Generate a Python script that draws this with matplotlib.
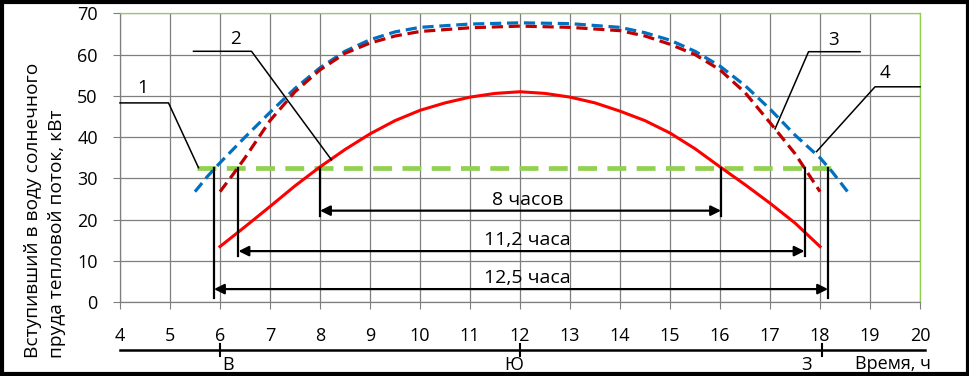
import matplotlib
matplotlib.use("Agg")
import matplotlib.pyplot as plt
from matplotlib.patches import Rectangle

plt.rcParams['font.family'] = ['Open Sans', 'DejaVu Sans']

# red solid curve (absorbed heat flux)
x_red = [6, 6.5, 7, 7.5, 8, 8.5, 9, 9.5, 10, 10.5, 11, 11.5, 12,
         12.5, 13, 13.5, 14, 14.5, 15, 15.5, 16, 16.5, 17, 17.5, 18]
y_red = [13.5, 18.3, 23.2, 28.2, 32.8, 37.0, 40.8, 44.0, 46.5, 48.3, 49.7, 50.6, 51.0,
         50.6, 49.7, 48.3, 46.3, 44.0, 41.0, 37.2, 32.8, 28.5, 24.0, 19.2, 13.5]

# dark red dashed curve
x_dred = [6, 6.25, 6.5, 7, 7.5, 8, 8.5, 9, 9.5, 10, 11, 12, 13, 14,
          14.5, 15, 15.5, 16, 16.5, 17, 17.5, 18]
y_dred = [26.8, 30.8, 35.0, 44.0, 51.0, 56.3, 60.3, 62.8, 64.5, 65.6, 66.5, 66.9, 66.6, 65.8,
          64.5, 62.5, 60.0, 56.3, 50.8, 43.5, 36.0, 26.8]

# blue dashed curve
x_blue = [5.5, 5.75, 6, 6.5, 7, 7.5, 8, 8.5, 9, 9.5, 10, 11, 12, 13, 14,
          14.5, 15, 15.5, 16, 16.5, 17, 17.5, 18, 18.25, 18.55]
y_blue = [26.8, 30.5, 33.8, 40.0, 46.0, 51.8, 56.8, 60.8, 63.6, 65.5, 66.6, 67.4, 67.7, 67.5, 66.6,
          65.3, 63.5, 60.8, 57.2, 52.5, 46.8, 40.5, 35.0, 31.5, 26.8]

# threshold level (green dashed)
level = 32.5
level_x = [5.55, 18.28]

# duration arrows: start, end, height, label
dur_start = [8.0, 6.37, 5.88]
dur_end = [16.02, 17.69, 18.16]
dur_y = [22.2, 12.4, 3.2]
dur_text = ['8 часов', '11,2 часа', '12,5 часа']
drop_bottom = [21.0, 11.2, 1.0]

# numbered leaders: label, label pos, polyline
lead_num = ['1', '2', '3', '4']
lead_lx = [4.45, 6.3, 18.27, 19.3]
lead_ly = [49.8, 61.5, 61.3, 53.4]
lead_xs = [[4.0, 4.97, 5.57], [5.47, 6.63, 8.23], [18.8, 17.77, 17.1], [20.0, 19.1, 17.93]]
lead_ys = [[48.3, 48.3, 32.6], [60.8, 60.8, 34.5], [60.7, 60.7, 42.0], [52.2, 52.2, 36.5]]

hours = list(range(4, 21))
sides = ['В', 'Ю', 'З']
side_x = [6.17, 11.87, 17.73]
side_ticks = [6, 12, 18.03]

fig = plt.figure(figsize=(9.7, 3.76), dpi=100)
ax = fig.add_axes([0.1237, 0.1960, 0.8248, 0.7686])

ax.set_xlim(4, 20)
ax.set_ylim(0, 70)
ax.set_xticks(hours)
ax.set_yticks(range(0, 71, 10))
ax.grid(True, color='#7f7f7f', lw=0.9)
ax.set_axisbelow(True)
ax.tick_params(axis='both', color='#7f7f7f', length=5, labelsize=13)
ax.tick_params(axis='x', pad=13)
ax.tick_params(axis='y', pad=11)
for s in ['left', 'bottom']:
    ax.spines[s].set_color('#7f7f7f')
    ax.spines[s].set_linewidth(0.9)
for s in ['top', 'right']:
    ax.spines[s].set_color('#92D050')
    ax.spines[s].set_linewidth(0.9)

fig.text(0.046, 1 - 358 / 376, 'Вступивший в воду солнечного\nпруда тепловой поток, кВт',
         rotation=90, ha='center', va='bottom', multialignment='left',
         fontsize=13.8, linespacing=1.42)

ax.plot(x_blue, y_blue, color='#0070C0', lw=2.3, ls=(0, (3.5, 1.8)), zorder=4)
ax.plot(x_dred, y_dred, color='#C00000', lw=2.3, ls=(0, (3.5, 1.8)), zorder=4)
ax.plot(x_red, y_red, color='#FF0000', lw=2.2, zorder=5)
ax.plot(level_x, [level, level], color='#92D050', lw=3.4, ls=(0, (4, 2.2)), zorder=3)

for x0, x1, y, t, yb in zip(dur_start, dur_end, dur_y, dur_text, drop_bottom):
    ax.plot([x0, x0], [level, yb], color='k', lw=1.6, zorder=6)
    ax.plot([x1, x1], [level, yb], color='k', lw=1.6, zorder=6)
    ax.annotate('', xy=(x1, y), xytext=(x0, y),
                arrowprops=dict(arrowstyle='<|-|>', color='k', lw=1.6,
                                mutation_scale=15, shrinkA=0, shrinkB=0), zorder=6)
    ax.text(12.15, y + 1.4, t, ha='center', va='baseline', fontsize=14, zorder=7)

for n, lx, ly, xs, ys in zip(lead_num, lead_lx, lead_ly, lead_xs, lead_ys):
    ax.plot(xs, ys, color='k', lw=1.1, zorder=6, clip_on=False)
    ax.text(lx, ly, n, ha='center', va='bottom', fontsize=13.5)

# compass-direction axis below the hours
tr = ax.get_xaxis_transform()
ax.plot([4, 20.1], [-0.165, -0.165], color='k', lw=1.8, transform=tr, clip_on=False)
for sx in side_ticks:
    ax.plot([sx, sx], [-0.145, -0.185], color='k', lw=1.5, transform=tr, clip_on=False)
for s, sx in zip(sides, side_x):
    ax.text(sx, -0.218, s, ha='center', va='center', fontsize=13, transform=tr)
ax.text(19.46, -0.212, 'Время, ч', ha='center', va='center', fontsize=13, transform=tr)

fig.patches.append(Rectangle((0.002, 0.004), 0.996, 0.992, transform=fig.transFigure,
                             fill=False, ec='k', lw=3))

fig.savefig('out.png', dpi=100)
